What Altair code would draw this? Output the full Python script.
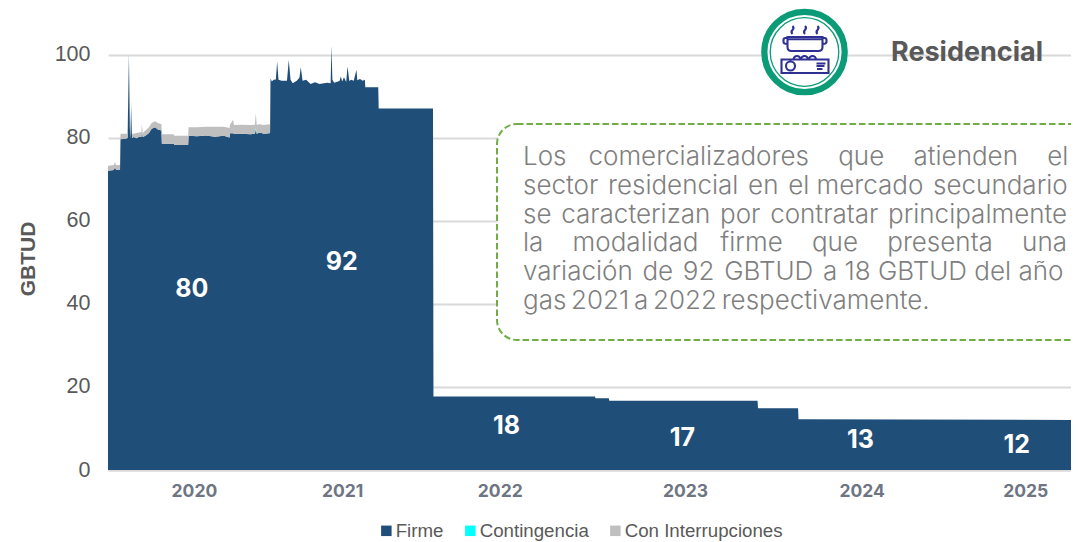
import altair as alt
import pandas as pd

# Gas days counted from the start of the first year on the axis
days = [0, 9, 13, 16, 18, 27, 28, 40, 44, 47, 49, 50, 52, 54, 58, 64, 70, 75, 76, 78, 84, 92, 98, 106, 112, 120, 121,
        148, 149, 180, 181, 200, 220, 240, 260, 273, 274, 281, 283, 300, 320, 330, 332, 334, 341, 350, 362, 364,
        365, 368, 372, 377, 380, 383, 390, 402, 406, 410, 415, 424, 430, 433, 437, 445, 455, 465, 475, 492, 500, 502, 504, 508,
        520, 523, 526, 530, 535, 538, 542, 546, 552, 558, 560, 566, 572, 577,
        578, 607, 608, 730, 731, 1094, 1095, 1125, 1126, 1459, 1460, 1550, 1551, 2163]
firme = [72.1, 72.2, 72.3, 73.0, 72.3, 72.3, 79.7, 79.8, 80.0, 100.2, 83.0, 79.8, 87.5, 80.0, 80.2, 79.9, 80.3, 80.2, 81.5, 80.2, 80.5, 81.2, 82.2, 82.6, 82.0, 81.8, 78.6,
         78.6, 78.3, 78.3, 80.5, 80.4, 80.6, 80.3, 80.5, 80.1, 81.1, 81.1, 81.0, 81.0, 80.9, 81.0, 82.0, 81.0, 81.3, 81.0, 81.1, 81.2,
         94.4, 93.6, 94.0, 94.1, 98.4, 94.0, 93.8, 93.8, 98.8, 94.0, 93.2, 93.8, 94.5, 97.0, 93.8, 94.0, 93.0, 93.4, 93.0, 93.3, 93.2, 102.2, 94.0, 93.3,
         93.7, 94.8, 93.6, 94.6, 93.5, 97.2, 93.7, 94.0, 93.8, 96.4, 93.9, 94.2, 93.8, 94.0,
         92.2, 92.2, 87.1, 87.1, 17.7, 17.7, 17.3, 17.3, 16.7, 16.7, 14.9, 14.9, 12.2, 12.05]
contingencia = [0.0] * len(days)
contingencia[days.index(332)] = 0.5
contingencia[days.index(76)] = 0.2
interrupciones = [1.2, 1.2, 1.2, 1.2, 1.2, 1.2, 1.3, 1.2, 1.0, 0.2, 0.4, 1.2, 1.5, 1.0, 0.8, 1.3, 1.0, 1.2, 1.7, 1.0, 1.3, 1.4, 1.4, 1.4, 1.6, 1.5, 2.3,
                  2.3, 2.2, 2.2, 2.1, 2.2, 2.1, 2.4, 2.2, 2.3, 2.1, 3.3, 2.1, 2.2, 2.2, 2.2, 3.5, 2.2, 2.0, 2.1, 2.2, 2.0,
                  0.0, 0.0, 0.0, 0.0, 0.0, 0.0, 0.0, 0.0, 0.0, 0.0, 0.0, 0.0, 0.0, 0.0, 0.0, 0.0, 0.0, 0.0, 0.0, 0.0, 0.0, 0.0, 0.0, 0.0,
                  0.0, 0.0, 0.0, 0.0, 0.0, 0.0, 0.0, 0.0, 0.0, 0.0, 0.0, 0.0, 0.0, 0.0,
                  0.0, 0.0, 0.0, 0.0, 0.0, 0.0, 0.0, 0.0, 0.0, 0.0, 0.0, 0.0, 0.0, 0.0]

series_names = ["Firme", "Contingencia", "Con Interrupciones"]
series_colors = ["#1F4E79", "#00FFFF", "#BFBFBF"]
year_ticks = [193, 526, 880, 1296, 1693, 2060]
y_ticks = [0, 20, 40, 60, 80, 100]

label_text = ["80", "92", "18", "17", "13", "12"]
label_day = [188, 525, 895, 1290, 1690, 2041]
label_y = [43.7, 50.0, 10.55, 7.75, 7.25, 6.05]

NB = "\u00a0"
HS = "\u200a"
TS = "\u2009"
lines = [
    f"Los{NB*3}comercializadores{NB*4}que{NB*4}atienden{NB*4}el",
    f"sector{NB}{HS}residencial{NB}{HS}en{NB}{HS}el{NB}mercado{NB}{HS}secundario",
    f"se{NB}{HS}caracterizan{NB}{HS}por{NB}{HS}contratar{NB}{HS}principalmente",
    f"la{NB*4}modalidad{NB*3}firme{NB*4}que{NB*4}presenta{NB*4}una",
    f"variación{NB}{HS}de{NB}{HS}92{NB}{HS}GBTUD{NB}{HS}a{NB}18{NB}GBTUD{NB}del{NB}año",
    f"gas{TS}2021{TS}a{TS}2022{TS}respectivamente.",
]

frames = []
for rank, (name, vals) in enumerate(zip(series_names, [firme, contingencia, interrupciones])):
    frames.append(pd.DataFrame({"day": days, "value": vals, "serie": name, "rank": rank}))
long = pd.concat(frames)

x_scale = alt.Scale(domain=[0, 2163], nice=False, zero=False)
y_scale = alt.Scale(domain=[0, 106], nice=False)

areas = alt.Chart(long).mark_area(interpolate="linear").encode(
    x=alt.X("day:Q", scale=x_scale, axis=alt.Axis(
        title=None, values=year_ticks, labelExpr="floor(datum.value/365)+2020", grid=False, ticks=False,
        domainColor="#D9D9D9", domainWidth=2, labelFont="Inter", labelFontSize=17.5, labelFontWeight=700,
        labelColor="#6E7583", labelPadding=12, labelOverlap=False, labelFlush=False)),
    y=alt.Y("value:Q", stack="zero", scale=y_scale, axis=alt.Axis(
        title="GBTUD", values=y_ticks, grid=True, gridColor="#D9D9D9", gridWidth=2, domain=False, ticks=False,
        labelFont="Liberation Sans", labelFontSize=21.5, labelColor="#595959", labelPadding=18,
        titleFont="Liberation Sans", titleFontSize=21, titleFontWeight="bold", titleColor="#595959",
        titleX=-69.5, titleY=228.5)),
    color=alt.Color("serie:N", scale=alt.Scale(domain=series_names, range=series_colors), legend=alt.Legend(
        title=None, orient="none", legendX=269, legendY=491, direction="horizontal", columns=3, columnPadding=17,
        symbolType="square", symbolSize=110, symbolStrokeWidth=0, labelFont="Liberation Sans", labelFontSize=18.7,
        labelColor="#595959", labelOffset=0)),
    order=alt.Order("rank:Q"),
)

value_labels = alt.Chart(pd.DataFrame({"t": label_text, "d": label_day, "v": label_y})).mark_text(
    font="Inter", fontSize=25, fontWeight=700, color="white").encode(
    x=alt.X("d:Q", scale=x_scale), y=alt.Y("v:Q", scale=y_scale), text="t:N")

one = pd.DataFrame({"a": [0]})
box = alt.Chart(one).mark_rect(fill="white", stroke="#70AD47", strokeWidth=2, strokeDash=[6.5, 3], cornerRadius=20).encode(
    x=alt.value(389), x2=alt.value(995), y=alt.value(94), y2=alt.value(310))

body = alt.Chart(pd.DataFrame({"line": lines, "row": range(len(lines))})).transform_calculate(
    py="135 + 28.8*datum.row").mark_text(
    font="Inter", fontSize=26, fontWeight=300, color="#7F7F7F", align="left", baseline="alphabetic").encode(
    x=alt.value(415), y=alt.Y("py:Q", scale=None), text="line:N")

title = alt.Chart(one).mark_text(text="Residencial", font="Inter", fontSize=27, fontWeight=700, color="#595959",
                                 align="left", baseline="middle").encode(x=alt.value(783), y=alt.value(23))

CX, CY = 696.5, 22
ring1 = alt.Chart(one).mark_point(shape="circle", filled=True, fill="white", stroke="#0B9B77", strokeWidth=6.3,
                                  size=80.4**2, opacity=1).encode(x=alt.value(CX), y=alt.value(CY))
ring2 = alt.Chart(one).mark_point(shape="circle", filled=False, stroke="#0B9B77", strokeWidth=1.3,
                                  size=68.6**2, opacity=1).encode(x=alt.value(CX), y=alt.value(CY))
stove_path = (
    "M-17 -15 H18 V-5 Q18 -1 14 -1 H-13 Q-17 -1 -17 -5 Z "
    "M-17 -12.7 H18 "
    "M-17 -14 H-19 Q-21 -14 -21 -12 V-10 Q-21 -8 -17 -8 "
    "M18 -14 H20 Q22 -14 22 -12 V-10 Q22 -8 18 -8 "
    "M-11 7.5 A3.5 3.5 0 0 1 -4 7.5 M-3.5 7.5 A3.5 3.5 0 0 1 3.5 7.5 M4.5 7.5 A3.5 3.5 0 0 1 11.5 7.5 "
    "M-23 7.5 H24 V21 H-23 Z "
    "M-9.5 14 A4.5 4.5 0 1 1 -18.5 14 A4.5 4.5 0 1 1 -9.5 14 Z "
    "M12 11.5 H21 M12 14 H20 M12.5 17 H18 "
    "M-12 -26 Q-10 -24 -12 -22 Q-14 -20 -12 -18 "
    "M0.5 -26 Q2.5 -24 0.5 -22 Q-1.5 -20 0.5 -18 "
    "M13 -26 Q15 -24 13 -22 Q11 -20 13 -18"
)
stove = alt.Chart(one).mark_point(shape=stove_path, filled=False, stroke="#2E3192", strokeWidth=2.1,
                                  size=4, opacity=1).encode(x=alt.value(CX), y=alt.value(CY))

chart = alt.layer(areas, value_labels, box, body, ring1, ring2, stove, title).properties(
    width=963, height=440,
    padding={"left": 100, "top": 22, "right": 0, "bottom": 72},
    autosize=alt.AutoSizeParams(type="none"),
    background="white",
).configure_view(stroke=None)

chart.save("out.html", embed_options={"renderer": "svg", "actions": False})
